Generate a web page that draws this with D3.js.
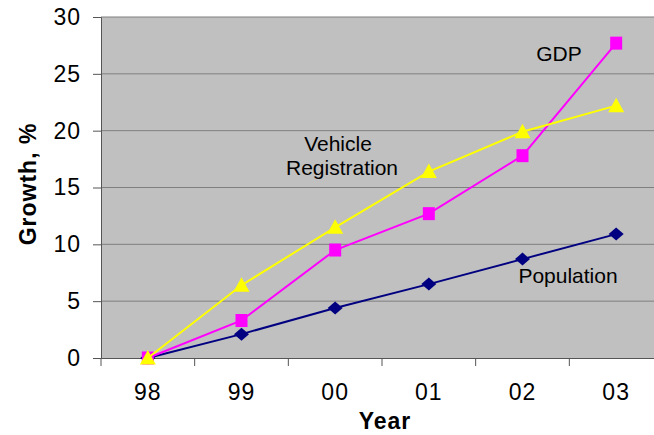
<!DOCTYPE html>
<html><head><meta charset="utf-8">
<script src="https://cdn.jsdelivr.net/npm/d3@7"></script>
<style>body{margin:0;background:#fff}svg{display:block}</style>
</head><body>
<svg id="c" width="654" height="435"></svg>
<script>
const years = ["98","99","00","01","02","03"];
const population = [0, 2.1, 4.4, 6.5, 8.7, 10.9];
const gdp = [0, 3.3, 9.5, 12.7, 17.8, 27.7];
const vehicle = [0, 6.4, 11.5, 16.4, 19.9, 22.2];
const yTicks = [0, 5, 10, 15, 20, 25, 30];

const svg = d3.select("#c");
const L = 101, T = 17, R = 663, B = 358;
const x = d3.scaleBand().domain(years).range([L, R]);
const y = d3.scaleLinear().domain([0, 30]).range([B, T]);
const font = "Liberation Sans, Arial, sans-serif";

svg.append("rect").attr("x", L).attr("y", T).attr("width", R - L).attr("height", B - T).attr("fill", "#c0c0c0");
svg.append("g").selectAll("line").data(yTicks.slice(1)).join("line")
  .attr("x1", L).attr("x2", R).attr("y1", d => y(d)).attr("y2", d => y(d))
  .attr("stroke", "#7f7f7f").attr("stroke-width", 1);

const ya = svg.append("g").attr("transform", `translate(${L},0)`)
  .call(d3.axisLeft(y).tickValues(yTicks).tickSize(8).tickPadding(12).tickFormat(d3.format("d")));
ya.select(".domain").attr("stroke", "#555");
ya.selectAll(".tick line").attr("stroke", "#555");
ya.selectAll("text").attr("font-family", font).attr("font-size", 23).attr("letter-spacing", 1).attr("fill", "#000");

const xa = svg.append("g").attr("transform", `translate(0,${B})`)
  .call(d3.axisBottom(x).tickSize(0).tickPadding(26));
xa.select(".domain").attr("stroke", "#555");
xa.selectAll("text").attr("font-family", font).attr("font-size", 23).attr("letter-spacing", 1).attr("fill", "#000");
svg.append("g").selectAll("line").data(years).join("line")
  .attr("x1", d => x(d)).attr("x2", d => x(d)).attr("y1", B).attr("y2", B + 8)
  .attr("stroke", "#555");

const cx = (d, i) => x(years[i]) + x.bandwidth() / 2;
const line = d3.line().x((d, i) => cx(d, i)).y(d => y(d));

const shapes = {
  diamond: "M-7.5,0L0,-6.5L7.5,0L0,6.5Z",
  square: "M-6,-6.5H6V6.5H-6Z",
  triangle: "M0,-8L8,6.5H-8Z"
};
function series(vals, color, shape) {
  svg.append("path").datum(vals).attr("d", line).attr("fill", "none").attr("stroke", color).attr("stroke-width", 2);
  svg.append("g").selectAll("path").data(vals).join("path")
    .attr("transform", (d, i) => `translate(${cx(d, i)},${y(d)})`)
    .attr("d", shapes[shape]).attr("fill", color);
}
series(population, "#000080", "diamond");
series(gdp, "#ff00ff", "square");
series(vehicle, "#ffff00", "triangle");

function label(t, xx, yy) {
  svg.append("text").attr("x", xx).attr("y", yy).attr("text-anchor", "middle")
    .attr("font-family", font).attr("font-size", 21).attr("fill", "#000").text(t);
}
label("GDP", 559, 61);
label("Vehicle", 338, 151);
label("Registration", 342, 175);
label("Population", 568, 283);

svg.append("text").attr("transform", "translate(36,184) rotate(-90)").attr("text-anchor", "middle")
  .attr("font-family", font).attr("font-size", 23).attr("letter-spacing", 1).attr("font-weight", "bold").text("Growth, %");
svg.append("text").attr("x", 385).attr("y", 429).attr("text-anchor", "middle")
  .attr("font-family", font).attr("font-size", 23).attr("letter-spacing", 1).attr("font-weight", "bold").text("Year");
</script>
</body></html>
